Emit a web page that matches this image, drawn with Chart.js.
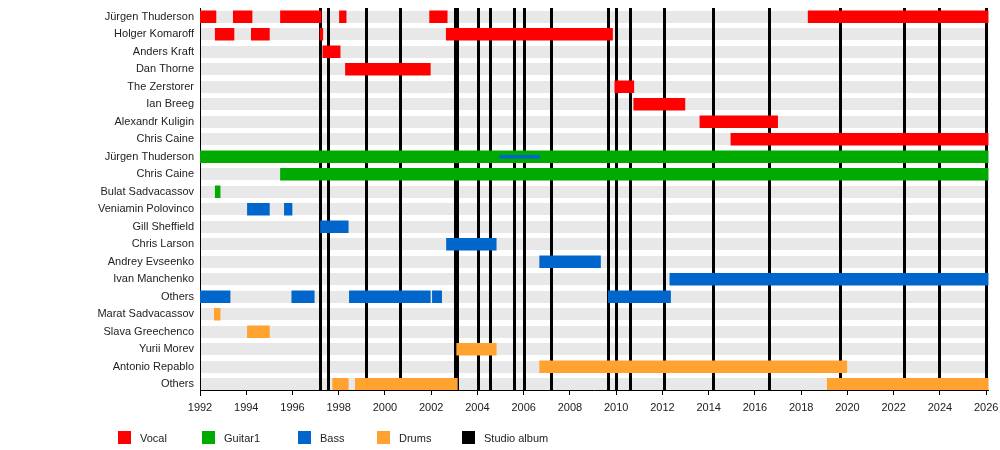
<!DOCTYPE html>
<html>
<head>
<meta charset="utf-8">
<script src="https://cdn.jsdelivr.net/npm/chart.js@4.4.1/dist/chart.umd.min.js"></script>
<style>
  body { margin: 0; background: #fff; }
  #wrap { position: relative; width: 1000px; height: 450px; }
  #legend { position: absolute; top: 431px; left: 0; width: 1000px; font: 11px "Liberation Sans", Arial, sans-serif; color: #222; }
  .box { position: absolute; top: 0; width: 13px; height: 13px; }
  .lbl { position: absolute; top: 0; line-height: 14px; white-space: nowrap; }
</style>
</head>
<body>
<div id="wrap">
  <canvas id="chart"></canvas>
  <div id="legend"></div>
</div>
<script>
// Zeilen von oben nach unten
const rowLabels = [
  'Jürgen Thuderson', 'Holger Komaroff', 'Anders Kraft', 'Dan Thorne', 'The Zerstorer',
  'Ian Breeg', 'Alexandr Kuligin', 'Chris Caine', 'Jürgen Thuderson', 'Chris Caine',
  'Bulat Sadvacassov', 'Veniamin Polovinco', 'Gill Sheffield', 'Chris Larson', 'Andrey Evseenko',
  'Ivan Manchenko', 'Others', 'Marat Sadvacassov', 'Slava Greechenco', 'Yurii Morev',
  'Antonio Repablo', 'Others'
];

// [zeile, von, bis]
const vocalSpans = [
  [0, 1992.0, 1992.69], [0, 1993.44, 1994.25], [0, 1995.48, 1997.24], [0, 1998.03, 1998.32],
  [0, 2001.93, 2002.69], [0, 2018.3, 2026.1],
  [1, 1992.66, 1993.47], [1, 1994.22, 1995.0], [1, 1997.19, 1997.31], [1, 2002.65, 2009.84],
  [2, 1997.31, 1998.06],
  [3, 1998.29, 2001.96],
  [4, 2009.94, 2010.76],
  [5, 2010.76, 2012.97],
  [6, 2013.62, 2016.98],
  [7, 2014.96, 2026.1]
];
const guitarSpans = [
  [8, 1992.0, 2026.1],
  [9, 1995.48, 2026.1],
  [10, 1992.66, 1992.87]
];
const bassSpans = [
  [11, 1994.05, 1995.0], [11, 1995.65, 1995.98],
  [12, 1997.21, 1998.41],
  [13, 2002.66, 2004.81],
  [14, 2006.69, 2009.32],
  [15, 2012.32, 2026.1],
  [16, 1992.0, 1993.3], [16, 1995.97, 1996.94], [16, 1998.46, 2001.96], [16, 2002.05, 2002.45],
  [16, 2009.66, 2012.35]
];
const bassExtraSpans = [
  [8, 2004.96, 2006.69]
];
const drumSpans = [
  [17, 1992.62, 1992.87],
  [18, 1994.05, 1995.0],
  [19, 2003.1, 2004.81],
  [20, 2006.69, 2019.97],
  [21, 1997.74, 1998.41], [21, 1998.72, 2003.13], [21, 2019.13, 2026.1]
];
const albumYears = [
  1997.21, 1997.57, 1999.21, 2000.66, 2003.04, 2003.14, 2004.06, 2004.55, 2005.61, 2006.05,
  2007.22, 2009.65, 2010.01, 2010.63, 2012.07, 2014.19, 2016.61, 2019.69, 2022.46, 2023.97, 2026.0
];
const tickYears = [1992, 1994, 1996, 1998, 2000, 2002, 2004, 2006, 2008, 2010, 2012, 2014, 2016, 2018, 2020, 2022, 2024, 2026];
const legendNames = ['Vocal', 'Guitar1', 'Bass', 'Drums', 'Studio album'];

const farben = { Vocal: '#ff0000', Guitar1: '#00aa00', Bass: '#0066cc', Drums: '#ffa230', 'Studio album': '#000000' };
const schrift = { family: '"Liberation Sans", Arial, sans-serif', size: 11 };
const jahrMin = 1992, jahrMax = 2026.1;

function toBars(spans) {
  return spans.map(s => ({ x: [s[1], s[2]], y: s[0] }));
}

function dataset(name, spans, farbe, dicke, order) {
  return {
    label: name,
    data: toBars(spans),
    backgroundColor: farbe,
    borderWidth: 0,
    borderSkipped: false,
    barThickness: dicke,
    grouped: false,
    order: order
  };
}

// feste Achsengroessen, keine automatische Randerweiterung
function fest(breite, hoehe) {
  return axis => {
    if (breite !== null) axis.width = breite;
    if (hoehe !== null) axis.height = hoehe;
    axis.paddingLeft = axis.paddingRight = axis.paddingTop = axis.paddingBottom = 0;
  };
}

new Chart(document.getElementById('chart'), {
  type: 'bar',
  data: {
    datasets: [
      dataset('Bass (extra)', bassExtraSpans, farben.Bass, 3, 0),
      dataset('Vocal', vocalSpans, farben.Vocal, 12, 1),
      dataset('Guitar1', guitarSpans, farben.Guitar1, 12, 1),
      dataset('Bass', bassSpans, farben.Bass, 12, 1),
      dataset('Drums', drumSpans, farben.Drums, 12, 1)
    ]
  },
  options: {
    indexAxis: 'y',
    responsive: true,
    maintainAspectRatio: false,
    animation: false,
    layout: { padding: { left: 0, top: 8, right: 11.5, bottom: 30 } },
    plugins: { legend: { display: false }, tooltip: { enabled: false } },
    scales: {
      x: {
        type: 'linear',
        position: 'bottom',
        min: jahrMin,
        max: jahrMax,
        afterBuildTicks: axis => { axis.ticks = tickYears.map(v => ({ value: v })); },
        afterFit: fest(null, 30),
        ticks: { font: schrift, color: '#222', padding: 6, maxRotation: 0, autoSkip: false, callback: v => String(v) },
        grid: { drawOnChartArea: false, drawTicks: true, tickLength: 5, color: '#000' },
        border: { display: true, color: '#000', width: 1 }
      },
      alben: {
        type: 'linear',
        axis: 'x',
        position: 'top',
        min: jahrMin,
        max: jahrMax,
        afterBuildTicks: axis => { axis.ticks = albumYears.map(v => ({ value: v })); },
        afterFit: fest(null, 0),
        ticks: { display: false },
        grid: { color: '#000', lineWidth: 3, drawTicks: false, offset: false, z: -1 },
        border: { display: false }
      },
      y: {
        type: 'linear',
        reverse: true,
        offset: false,
        min: -0.5,
        max: 21.33,
        afterBuildTicks: axis => { axis.ticks = rowLabels.map((_, i) => ({ value: i })); },
        afterFit: fest(200, null),
        ticks: { font: schrift, color: '#222', padding: 6, autoSkip: false, callback: v => rowLabels[v] },
        grid: { color: '#e8e8e8', lineWidth: 12, drawTicks: false, offset: false, z: -2 },
        border: { display: true, color: '#000', width: 1 }
      }
    }
  }
});

// Legende unter dem Diagramm
const legendeX = [118, 202, 298, 377, 462];
const legende = document.getElementById('legend');
legendNames.forEach((name, i) => {
  const box = document.createElement('div');
  box.className = 'box';
  box.style.left = legendeX[i] + 'px';
  box.style.background = farben[name];
  const lbl = document.createElement('div');
  lbl.className = 'lbl';
  lbl.style.left = (legendeX[i] + 22) + 'px';
  lbl.textContent = name;
  legende.appendChild(box);
  legende.appendChild(lbl);
});
</script>
</body>
</html>
